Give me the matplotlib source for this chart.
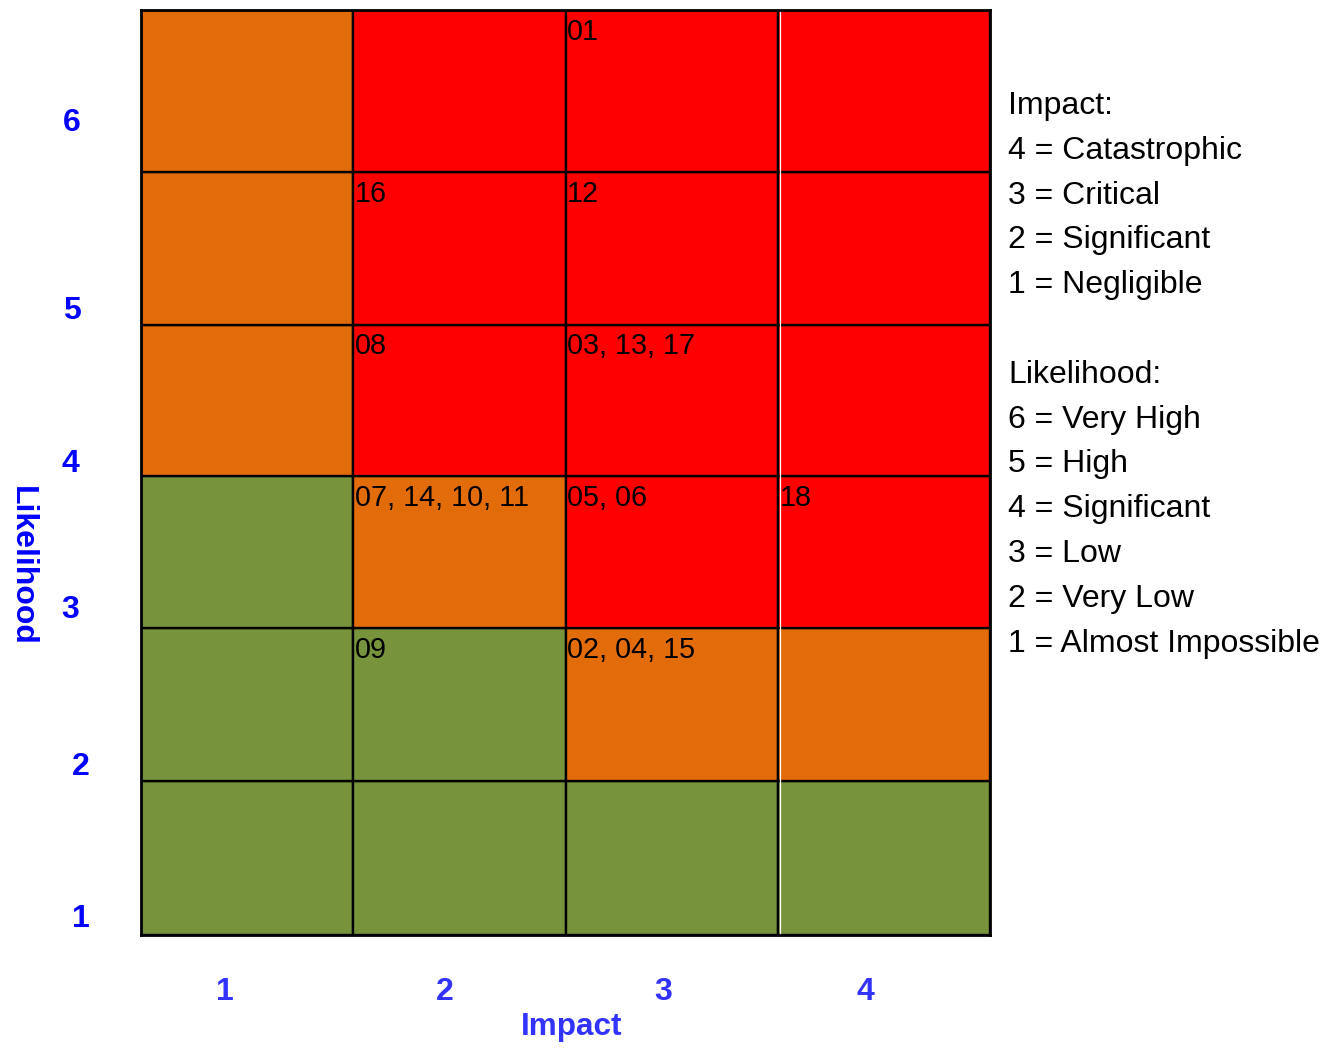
import matplotlib
matplotlib.use("Agg")
import matplotlib.pyplot as plt
from matplotlib.patches import Rectangle
from matplotlib import transforms

plt.rcParams['font.family'] = ['Liberation Sans', 'DejaVu Sans']

# Risk matrix data
impact_levels = [1, 2, 3, 4]
likelihood_levels = [1, 2, 3, 4, 5, 6]

# Zone of each cell, rows from likelihood 1 (bottom) to 6 (top), columns impact 1..4
zones = [
    ["low", "low", "low", "low"],
    ["low", "low", "med", "med"],
    ["low", "med", "high", "high"],
    ["med", "high", "high", "high"],
    ["med", "high", "high", "high"],
    ["med", "high", "high", "high"],
]

# Risk IDs placed in cells: (impact, likelihood, label)
risk_cells = [
    (3, 6, "01"),
    (2, 5, "16"),
    (3, 5, "12"),
    (2, 4, "08"),
    (3, 4, "03, 13, 17"),
    (2, 3, "07, 14, 10, 11"),
    (3, 3, "05, 06"),
    (4, 3, "18"),
    (2, 2, "09"),
    (3, 2, "02, 04, 15"),
]

key_lines = ["Impact:", "4 = Catastrophic", "3 = Critical", "2 = Significant",
             "1 = Negligible", "", "Likelihood:", "6 = Very High", "5 = High",
             "4 = Significant", "3 = Low", "2 = Very Low", "1 = Almost Impossible"]

zone_colors = {"low": "#77933C", "med": "#E36C0A", "high": "#FF0000"}

# Layout: row boundaries (top row drawn a little taller)
row_edges = [0.0, 1.0, 1.99, 2.975, 3.96, 4.95, 6.0]
# Tick label anchor positions (data units along the axis, axes fraction across)
ytick_pos = [0.105, 1.09, 2.11, 3.057, 4.05, 5.268]
ytick_x = [-0.0707, -0.0707, -0.0836, -0.0836, -0.0813, -0.0813]
xtick_pos = [0.396, 1.432, 2.459, 3.411]

fig = plt.figure(figsize=(13.31, 10.48), dpi=100)
ax = fig.add_axes([141 / 1331, 113 / 1048, 849 / 1331, 925 / 1048])
ax.set_xlim(0, 4)
ax.set_ylim(0, 6)
ax.set_xticks([])
ax.set_yticks([])
for s in ax.spines.values():
    s.set_linewidth(2.0)
    s.set_color("black")
    s.set_zorder(5)

for r, lk in enumerate(likelihood_levels):
    y0, y1 = row_edges[r], row_edges[r + 1]
    for c, im in enumerate(impact_levels):
        ax.add_patch(Rectangle((c, y0), 1, y1 - y0,
                               facecolor=zone_colors[zones[r][c]],
                               edgecolor="black", linewidth=1.7, zorder=1))

# thin white rule beside the impact 3/4 boundary
ax.axvline(3.009, color="white", lw=0.9, zorder=3)

for im, lk, lab in risk_cells:
    ax.annotate(lab, xy=(im - 1, row_edges[lk]), xytext=(1.2, -5.5),
                textcoords="offset points", ha="left", va="top",
                fontsize=20.7, color="black", zorder=4)

# axis tick labels
ytr = transforms.blended_transform_factory(ax.transAxes, ax.transData)
for lk, yp, xp in zip(likelihood_levels, ytick_pos, ytick_x):
    ax.text(xp, yp, str(lk), transform=ytr, ha="center", va="center",
            fontsize=23, fontweight="bold", color="#0000FF")
xtr = transforms.blended_transform_factory(ax.transData, ax.transAxes)
for im, xp in zip(impact_levels, xtick_pos):
    ax.text(xp, -0.0614, str(im), transform=xtr, ha="center", va="center",
            fontsize=23, fontweight="bold", color="#3333FF")

fig.text(572 / 1331, 1 - 1027 / 1048, "Impact", ha="center", va="center",
         fontsize=22.7, fontweight="bold", color="#3333FF")
fig.text(22 / 1331, 1 - 566 / 1048, "Likelihood", ha="center", va="center",
         rotation=270, fontsize=23, fontweight="bold", color="#0000FF")

# key on the right
for i, line in enumerate(key_lines):
    if line:
        fig.text(1008 / 1331, 1 - (106 + i * 44.8) / 1048, line,
                 ha="left", va="center", fontsize=23, color="black")

fig.savefig("out.png", dpi=100)
